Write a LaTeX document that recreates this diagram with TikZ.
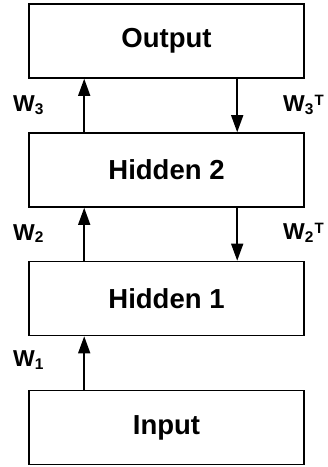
\documentclass[tikz,border=0pt]{standalone}
\usepackage{fontspec}
\setmainfont{Liberation Sans}
\usetikzlibrary{arrows.meta}
\newcommand{\wsub}[1]{W\raisebox{-2.5pt}{\fontsize{15.5}{15.5}\selectfont #1}}
\newcommand{\wsubT}[1]{W\raisebox{-2.5pt}{\fontsize{15.5}{15.5}\selectfont #1}\kern1pt\raisebox{6.5pt}{\fontsize{15}{15}\selectfont T}}
\begin{document}
\begin{tikzpicture}[x=1pt,y=-1pt,
  layer/.style={draw=black, line width=1.6pt, minimum width=275pt, minimum height=74pt,
    inner sep=0pt, font=\fontsize{27.5}{27.5}\selectfont\bfseries},
  wlabel/.style={anchor=base west, inner sep=0pt, font=\fontsize{23}{23}\selectfont\bfseries},
  arr/.style={line width=1.5pt, -{Triangle[length=17pt,width=12pt]}}]
\useasboundingbox (0,0) rectangle (328,467);
% the four stacked layers
\node[layer] (out) at (166.5,41) {Output};
\node[layer] (h2) at (166.5,170) {Hidden 2};
\node[layer] (h1) at (166.5,298.5) {Hidden 1};
\node[layer] (in) at (166.5,427.5) {Input};
% forward weights on the left
\draw[arr] ([xshift=56pt]in.north west) -- ([xshift=56pt]h1.south west);
\draw[arr] ([xshift=56pt]h1.north west) -- ([xshift=56pt]h2.south west);
\draw[arr] ([xshift=56pt]h2.north west) -- ([xshift=56pt]out.south west);
% transposed weights on the right
\draw[arr] ([xshift=209pt]out.south west) -- ([xshift=209pt]h2.north west);
\draw[arr] ([xshift=209pt]h2.south west) -- ([xshift=209pt]h1.north west);
% labels
\node[wlabel] (w3) at (13,111.5) {\wsub{3}};
\node[wlabel] (w2) at (13,240) {\wsub{2}};
\node[wlabel] (w1) at (13,366.5) {\wsub{1}};
\node[wlabel] (w3t) at (283,111.5) {\wsubT{3}};
\node[wlabel] (w2t) at (283,239.5) {\wsubT{2}};
\end{tikzpicture}
\end{document}
